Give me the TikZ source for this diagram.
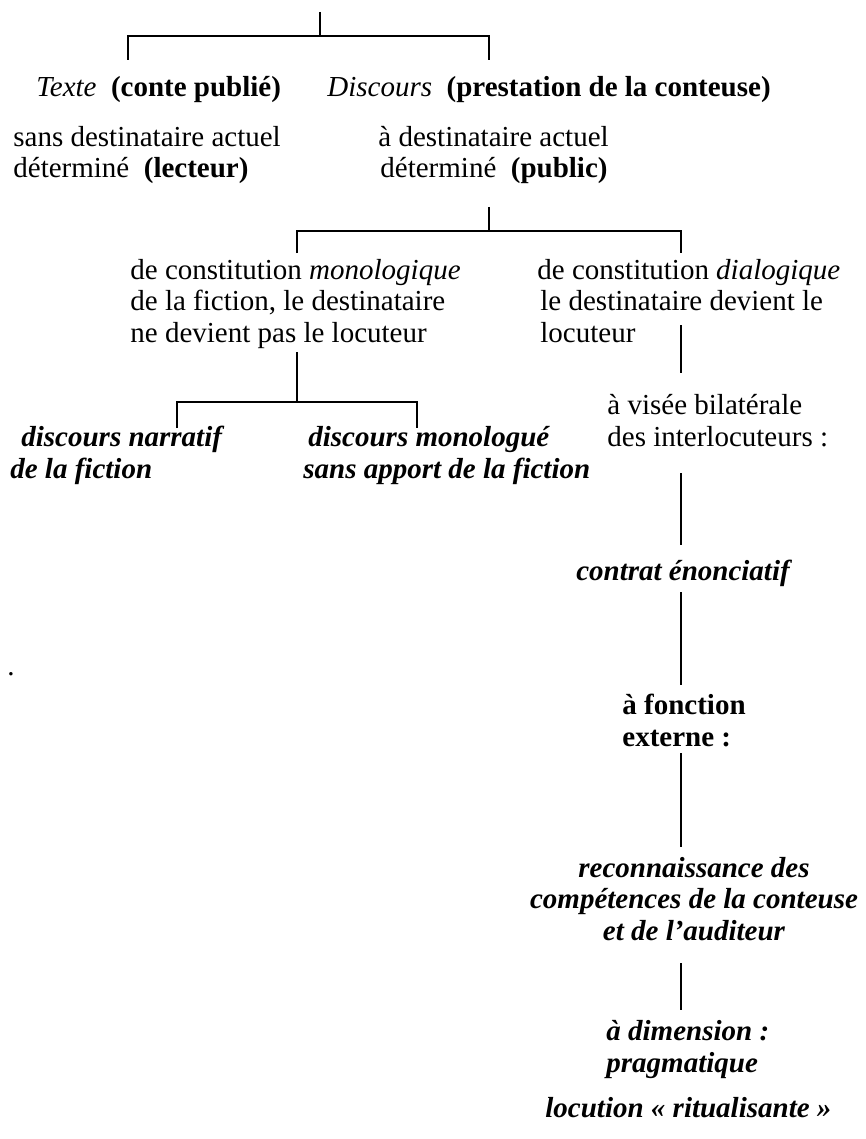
\documentclass[tikz,border=0pt]{standalone}
\usepackage{fontspec}
\setmainfont{Liberation Serif}
\usetikzlibrary{positioning}
\newcommand\treefont{\fontsize{14.5}{15.75}\selectfont}

\begin{document}
\begin{tikzpicture}[
    x=0.5pt, y=-0.5pt,
    every node/.style={inner sep=0pt, font=\treefont},
    txt/.style={anchor=base west, align=left},
    txtc/.style={anchor=base, align=center},
    branch/.style={line width=1pt},
  ]
  \useasboundingbox (0,0) rectangle (866,1139);

  % --- Level 1 (multi-line nodes sit on their last baseline) ---
  \node[txt] (texte) at (36,97) {\textit{Texte}~~\textbf{(conte publié)}};
  \node[txt] (discours) at (327,97) {\textit{Discours}~~\textbf{(prestation de la conteuse)}};
  \node[txt] (sansdest) at (13,178)
    {sans destinataire actuel\\déterminé~~\textbf{(lecteur)}};
  \node[txt] (adest) at (378,178)
    {à destinataire actuel\\\hspace*{1pt}déterminé~~\textbf{(public)}};

  % --- Level 2 ---
  \node[txt] (mono) at (130,342)
    {de constitution \textit{monologique}\\de la fiction, le destinataire\\ne devient pas le locuteur};
  \node[txt] (dia) at (537,342)
    {de constitution \textit{dialogique}\\\hspace*{1.5pt}le destinataire devient le\\\hspace*{1.5pt}locuteur};

  % --- Level 3 (left) ---
  \node[txt, font=\treefont\bfseries\itshape] (narr) at (10,478)
    {\hspace*{5.5pt}discours narratif\\de la fiction};
  \node[txt, font=\treefont\bfseries\itshape] (monol) at (303,478)
    {\hspace*{2.5pt}discours monologué\\sans apport de la fiction};

  % --- Right column ---
  \node[txt] (visee) at (607,446) {à visée bilatérale\\des interlocuteurs :};
  \node[txtc, font=\treefont\bfseries\itshape] (contrat) at (683,580) {contrat énonciatif};
  \node[txt, font=\treefont\bfseries] (fonction) at (622,746) {à fonction\\externe :};
  \node[txtc, font=\treefont\bfseries\itshape] (reconn) at (694,940)
    {reconnaissance des\\compétences de la conteuse\\et de l’auditeur};
  \node[txt, font=\treefont\bfseries\itshape] (dimension) at (606,1072)
    {à dimension :\\pragmatique};
  \node[txt, font=\treefont\bfseries\itshape] (locution) at (545,1117)
    {locution « ritualisante »};
  \node[txt] (dot) at (7,675) {.};

  % --- Tree joints ---
  \coordinate (root) at (320,12);
  \coordinate (fork1) at (320,36);
  \coordinate (drop1l) at (128,60);
  \coordinate (drop1r) at (489,60);

  \coordinate (root2) at (489,207);
  \coordinate (fork2) at (489,231);
  \coordinate (drop2l) at (297,253);
  \coordinate (drop2r) at (681,253);

  \coordinate (root3) at (297,352);
  \coordinate (fork3) at (297,402);
  \coordinate (drop3l) at (177,428);
  \coordinate (drop3r) at (417,428);

  % --- Branches ---
  \draw[branch] (root) -- (fork1);
  \draw[branch] (drop1l) |- (fork1) -| (drop1r);
  \draw[branch] (root2) -- (fork2);
  \draw[branch] (drop2l) |- (fork2) -| (drop2r);
  \draw[branch] (root3) -- (fork3);
  \draw[branch] (drop3l) |- (fork3) -| (drop3r);

  % --- Right column links ---
  \draw[branch] (681,325) -- (681,373);
  \draw[branch] (681,473) -- (681,545);
  \draw[branch] (681,592) -- (681,685);
  \draw[branch] (681,753) -- (681,847);
  \draw[branch] (681,963) -- (681,1010);

\end{tikzpicture}
\end{document}
